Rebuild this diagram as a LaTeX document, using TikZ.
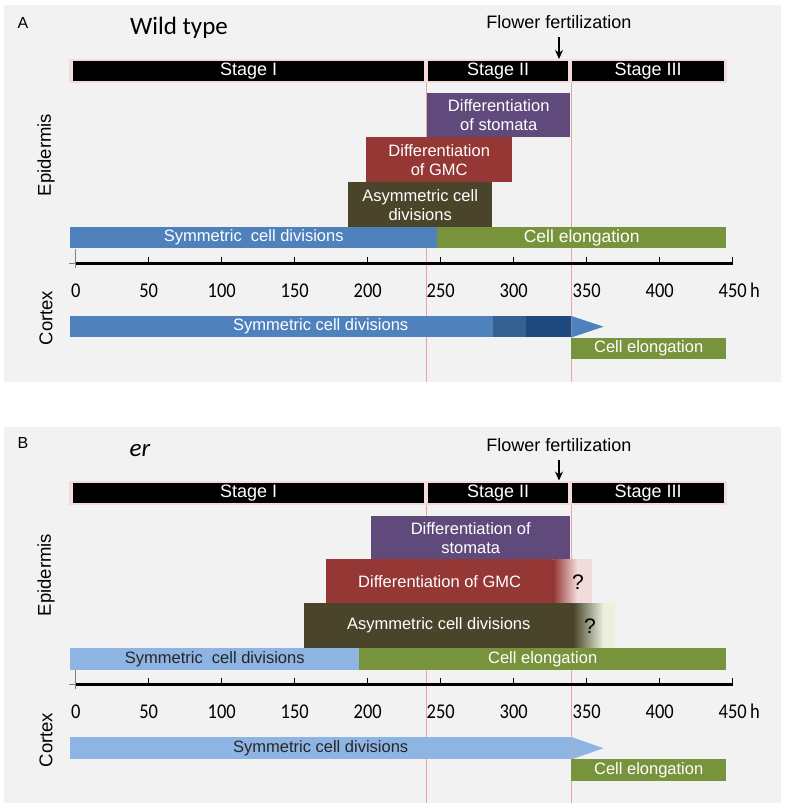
\documentclass[tikz,border=0pt]{standalone}
\usepackage{fontspec}
\setmainfont{Liberation Sans}
\newfontfamily\carlito{Carlito}
\usepackage{xcolor}
\usepackage{graphicx}
\usetikzlibrary{arrows.meta,positioning,calc}
\definecolor{panelgray}{HTML}{F2F2F2}
\definecolor{stagerim}{HTML}{F2DCDB}
\definecolor{guidered}{HTML}{E6A5A5}
\definecolor{stomata}{HTML}{604A7B}
\definecolor{gmc}{HTML}{953735}
\definecolor{gmcpale}{HTML}{F2DCDB}
\definecolor{asym}{HTML}{4A452A}
\definecolor{asympale}{HTML}{EBF1DE}
\definecolor{symdiv}{HTML}{4F81BD}
\definecolor{symmid}{HTML}{376092}
\definecolor{symdark}{HTML}{1F497D}
\definecolor{symlight}{HTML}{8DB4E2}
\definecolor{elong}{HTML}{77933C}

\begin{document}
\begin{tikzpicture}[
  x=1pt, y=-1pt, >={Stealth[length=9pt,width=8pt]},
  panel/.style={fill=panelgray},
  guide/.style={draw=guidered, line width=0.8pt},
  stagebox/.style={anchor=north west, fill=black, text=white, inner sep=0pt, minimum height=20pt, font=\fontsize{18}{20}\selectfont},
  bar/.style={anchor=north west, inner sep=0pt, align=center, text=white, font=\fontsize{16.5}{19}\selectfont},
  side/.style={rotate=90, font=\fontsize{18.5}{20}\selectfont},
  num/.style={inner sep=0pt, font=\carlito\fontsize{21}{22}\selectfont},
  tag/.style={font=\fontsize{16}{18}\selectfont},
  title/.style={font=\carlito\fontsize{25}{28}\selectfont},
  ffert/.style={font=\fontsize{18}{20}\selectfont},
  query/.style={font=\fontsize{21}{22}\selectfont},
]
\useasboundingbox (0,0) rectangle (786,809);

% panels and stage guides
\fill[panel] (4,5) rectangle (781,382);
\fill[panel] (4,427) rectangle (781,803);
\foreach \yt/\yb in {83/382, 504/803} {
  \draw[guide] (426,\yt) -- (426,\yb);
  \draw[guide] (571,\yt) -- (571,\yb);
}

% time axes
\foreach \p/\ya in {A/263, B/684} {
  \draw[gray, line width=0.8pt] (69,\ya) -- (75.7,\ya);
  \draw[gray, line width=0.8pt] (75.7,{\ya-14}) -- (75.7,{\ya+5});
  \draw[line width=3pt] (75.7,\ya) -- (733,\ya);
  \foreach \h in {50,100,...,450}
    \draw[line width=1.2pt] ({75.7+1.46*\h},\ya) -- ({75.7+1.46*\h},{\ya-6});
  \foreach \h in {0,50,...,450}
    \node[num] (n\p\h) at ({75.7+1.46*\h},{\ya+28}) {\scalebox{0.88}[1]{\h}};
  \node[num, anchor=base west, xshift=3pt] (unit\p) at (n\p450.base east) {\scalebox{0.88}[1]{h}};
}

% ---- A: wild type
\node[tag] (tagA) at (23,23) {A};
\node[title] (titleA) at (179,28) {Wild type};
\node[ffert] (ffA) at (559,22) {Flower fertilization};
\fill[stagerim] (69,59) rectangle (727,83);
\node[stagebox, minimum width=351pt] (s1A) at (73,61) {Stage I};
\node[stagebox, minimum width=140pt] (s2A) at (428,61) {Stage II};
\node[stagebox, minimum width=152pt] (s3A) at (572,61) {Stage III};
\draw[->, line width=1.3pt, shorten <=5pt, shorten >=2pt] (ffA.south) -- (ffA.south |- s2A.north);

\node[side] (epiA) at (46,155) {Epidermis};
\node[bar, fill=stomata, minimum width=143pt, minimum height=44pt] (stomA) at (427,93) {Differentiation\\of stomata};
\node[bar, fill=gmc, minimum width=146pt, minimum height=45pt] (gmcA) at (366,137) {Differentiation\\of GMC};
\node[bar, fill=asym, minimum width=144pt, minimum height=45pt] (asymA) at (348,182) {Asymmetric cell\\divisions};
\node[bar, fill=symdiv, minimum width=367pt, minimum height=21pt] (symA) at (70,227) {Symmetric\ \ cell divisions};
\node[bar, fill=elong, minimum width=289pt, minimum height=21pt, font=\fontsize{17.5}{19}\selectfont] (elongA) at (437,227) {Cell elongation};

\node[side] (cortA) at (46,318) {Cortex};
\node[bar, fill=symdiv, minimum width=501pt, minimum height=21pt] (csymA) at (70,316) {Symmetric cell divisions};
\fill[symmid] (493,316) rectangle (526,337);
\fill[symdark] (526,316) rectangle (csymA.south east);
\fill[symdiv] (csymA.north east) -- ($(csymA.east)+(32,0)$) -- (csymA.south east) -- cycle;
\node[bar, fill=elong, minimum width=155pt, minimum height=21pt] (celongA) at (571,338) {Cell elongation};

% ---- B: er mutant
\node[tag] (tagB) at (23,443) {B};
\node[title, font=\carlito\itshape\fontsize{25}{28}\selectfont] (titleB) at (140,451) {er};
\node[ffert] (ffB) at (559,445) {Flower fertilization};
\fill[stagerim] (69,480.5) rectangle (727,504.5);
\node[stagebox, minimum width=351pt] (s1B) at (73,482.5) {Stage I};
\node[stagebox, minimum width=140pt] (s2B) at (428,482.5) {Stage II};
\node[stagebox, minimum width=152pt] (s3B) at (572,482.5) {Stage III};
\draw[->, line width=1.3pt, shorten <=5pt, shorten >=2pt] (ffB.south) -- (ffB.south |- s2B.north);

\node[side] (epiB) at (46,575) {Epidermis};
\node[bar, fill=stomata, minimum width=199pt, minimum height=43pt] (stomB) at (371,516) {Differentiation of\\stomata};
\node[bar, fill=gmc, minimum width=227pt, minimum height=44pt] (gmcB) at (326,559) {Differentiation of GMC};
\shade[left color=gmc, right color=gmcpale] (gmcB.north east) rectangle ($(gmcB.south east)+(24,0)$);
\fill[gmcpale] ($(gmcB.north east)+(24,0)$) rectangle ($(gmcB.south east)+(39,0)$);
\node[query] (qgmcB) at (578,582) {?};
\node[bar, fill=asym, minimum width=269pt, minimum height=45pt] (asymB) at (304,603) {Asymmetric cell divisions};
\shade[left color=asym, right color=asympale] (asymB.north east) rectangle ($(asymB.south east)+(30,0)$);
\fill[asympale] ($(asymB.north east)+(30,0)$) rectangle ($(asymB.south east)+(42,0)$);
\node[query] (qasymB) at (590,626) {?};
\node[bar, fill=symlight, text=black!85, minimum width=289pt, minimum height=22pt] (symB) at (70,648) {Symmetric\ \ cell divisions};
\node[bar, fill=elong, minimum width=367pt, minimum height=22pt] (elongB) at (359,648) {Cell elongation};

\node[side] (cortB) at (46,740) {Cortex};
\node[bar, fill=symlight, text=black!85, minimum width=501pt, minimum height=22pt] (csymB) at (70,737) {Symmetric cell divisions};
\fill[symlight] (csymB.north east) -- ($(csymB.east)+(32,0)$) -- (csymB.south east) -- cycle;
\node[bar, fill=elong, minimum width=155pt, minimum height=22pt] (celongB) at (571,759) {Cell elongation};
\end{tikzpicture}
\end{document}
